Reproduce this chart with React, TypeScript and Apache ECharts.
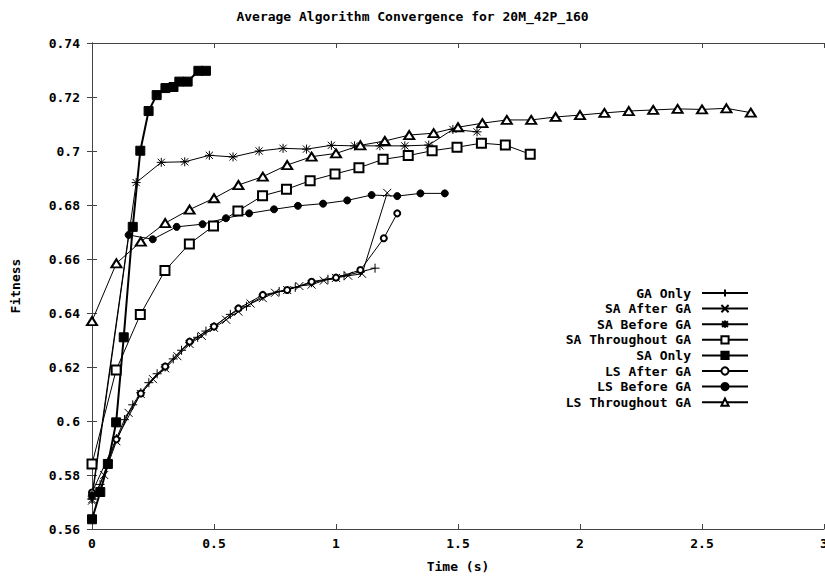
import React, { useEffect, useRef } from "react";
import * as echarts from "echarts";

const TITLE = "Average Algorithm Convergence for 20M_42P_160";
const X_NAME = "Time (s)";
const Y_NAME = "Fitness";

const gaOnly: number[][] = [
  [0, 0.5712], [0.033, 0.5765], [0.067, 0.585], [0.1, 0.5935], [0.133, 0.6005], [0.167, 0.606],
  [0.2, 0.6105], [0.233, 0.6142], [0.267, 0.6175], [0.3, 0.62], [0.333, 0.623], [0.367, 0.6262],
  [0.4, 0.629], [0.433, 0.631], [0.467, 0.6333], [0.5, 0.635], [0.567, 0.6395], [0.633, 0.6425],
  [0.7, 0.6462], [0.767, 0.648], [0.833, 0.6495], [0.9, 0.6512], [0.967, 0.6525], [1.033, 0.6538],
  [1.1, 0.6552], [1.16, 0.6566],
];
const saAfterGa: number[][] = [
  [0, 0.5705], [0.05, 0.58], [0.1, 0.5925], [0.15, 0.603], [0.2, 0.61], [0.25, 0.6155], [0.3, 0.6195],
  [0.35, 0.624], [0.4, 0.6285], [0.45, 0.6315], [0.5, 0.6345], [0.55, 0.6375], [0.6, 0.6405],
  [0.65, 0.6435], [0.7, 0.6455], [0.75, 0.6475], [0.8, 0.6485], [0.85, 0.65], [0.9, 0.6505],
  [0.95, 0.652], [1.0, 0.653], [1.05, 0.6538], [1.107, 0.6545], [1.21, 0.6845],
];
const saBeforeGa: number[][] = [
  [0, 0.571], [0.181, 0.6883], [0.284, 0.6958], [0.38, 0.696], [0.481, 0.6984], [0.578, 0.6978],
  [0.685, 0.7], [0.783, 0.701], [0.879, 0.7007], [0.981, 0.7021], [1.076, 0.7019], [1.18, 0.7019],
  [1.282, 0.7019], [1.38, 0.7022], [1.479, 0.708], [1.578, 0.7071],
];
const saThroughoutGa: number[][] = [
  [0, 0.5841], [0.099, 0.6189], [0.198, 0.6394], [0.299, 0.6557], [0.399, 0.6656], [0.498, 0.6722],
  [0.598, 0.6778], [0.699, 0.6834], [0.797, 0.6858], [0.894, 0.689], [0.996, 0.6915], [1.094, 0.6938],
  [1.193, 0.6969], [1.296, 0.6983], [1.394, 0.7001], [1.496, 0.7014], [1.596, 0.7029], [1.694, 0.7022],
  [1.796, 0.6988],
];
const saOnly: number[][] = [
  [0, 0.5636], [0.034, 0.5737], [0.065, 0.5841], [0.099, 0.5995], [0.13, 0.631], [0.167, 0.6719],
  [0.198, 0.7001], [0.232, 0.7148], [0.265, 0.7207], [0.301, 0.7233], [0.334, 0.7237], [0.358, 0.7257],
  [0.392, 0.7257], [0.436, 0.7297], [0.467, 0.7297],
];
const lsAfterGa: number[][] = [
  [0, 0.5735], [0.1, 0.5932], [0.2, 0.6102], [0.3, 0.6202], [0.4, 0.6294], [0.5, 0.635], [0.6, 0.6417],
  [0.7, 0.6467], [0.8, 0.6485], [0.9, 0.6516], [1.0, 0.6531], [1.1, 0.6559], [1.196, 0.6677],
  [1.251, 0.6769],
];
const lsBeforeGa: number[][] = [
  [0, 0.5725], [0.15, 0.6689], [0.249, 0.6673], [0.347, 0.6719], [0.453, 0.6729], [0.549, 0.6751],
  [0.644, 0.6769], [0.746, 0.6784], [0.844, 0.6797], [0.947, 0.6805], [1.046, 0.6817], [1.146, 0.6837],
  [1.251, 0.6833], [1.346, 0.6843], [1.446, 0.6843],
];
const lsThroughoutGa: number[][] = [
  [0, 0.637], [0.1, 0.6584], [0.2, 0.6664], [0.3, 0.6733], [0.4, 0.6783], [0.5, 0.6825], [0.6, 0.6874],
  [0.7, 0.6905], [0.8, 0.6948], [0.9, 0.6979], [1.0, 0.6991], [1.1, 0.7021], [1.2, 0.7037], [1.3, 0.7059],
  [1.4, 0.7066], [1.5, 0.7088], [1.6, 0.7103], [1.7, 0.7115], [1.8, 0.7115], [1.9, 0.7126], [2.0, 0.7133],
  [2.1, 0.7141], [2.2, 0.7148], [2.3, 0.7152], [2.4, 0.7156], [2.5, 0.7154], [2.6, 0.7158], [2.7, 0.7142],
];

const FONT = '"DejaVu Sans Mono", "Liberation Mono", monospace';

const PLUS = "path://M5,0L5,10M0,5L10,5";
const CROSS = "path://M0,0L10,10M10,0L0,10";
const STAR = "path://M5,0L5,10M0,5L10,5M1,1L9,9M9,1L1,9";

function mk(name: string, data: number[][], symbol: string, size: number | number[], lw = 1) {
  return {
    name,
    type: "line",
    data,
    symbol,
    symbolSize: size,
    showAllSymbol: true,
    lineStyle: { color: "#000", width: lw },
    itemStyle: { color: "#000", borderColor: "#000", borderWidth: 1 },
    emphasis: { disabled: true },
  };
}

export default function App() {
  const ref = useRef<HTMLDivElement>(null);
  useEffect(() => {
    if (!ref.current) return;
    const chart = echarts.init(ref.current, null, { renderer: "svg" });
    const labelStyle = { fontFamily: FONT, fontSize: 13, fontWeight: "bold", color: "#000" };
    const axisLine = { show: true, lineStyle: { color: "#444", width: 1 } };
    const tick = { show: true, inside: true, length: 5, lineStyle: { color: "#444" } };
    chart.setOption({
      animation: false,
      backgroundColor: "#fff",
      title: {
        text: TITLE,
        left: "center",
        top: 5,
        textStyle: { ...labelStyle },
      },
      grid: { left: 92, right: 1, top: 43, bottom: 48, containLabel: false, outerBoundsMode: "none" },
      legend: {
        orient: "vertical",
        align: "right",
        right: 71,
        top: 281,
        itemWidth: 46,
        itemHeight: 9,
        itemGap: 1.6,
        textStyle: { ...labelStyle, lineHeight: 14, padding: [0, 6, 0, 0] },
        data: [
          "GA Only", "SA After GA", "SA Before GA", "SA Throughout GA",
          "SA Only", "LS After GA", "LS Before GA", "LS Throughout GA",
        ],
      },
      xAxis: [
        {
          type: "value",
          min: 0,
          max: 3,
          interval: 0.5,
          name: X_NAME,
          nameLocation: "middle",
          nameGap: 31,
          nameTextStyle: { ...labelStyle },
          axisLine,
          axisTick: tick,
          axisLabel: { ...labelStyle, margin: 8 },
          splitLine: { show: false },
        },
        {
          type: "value",
          position: "top",
          min: 0,
          max: 3,
          interval: 0.5,
          axisLine,
          axisTick: tick,
          axisLabel: { show: false },
          splitLine: { show: false },
        },
      ],
      yAxis: [
        {
          type: "value",
          min: 0.56,
          max: 0.74,
          interval: 0.02,
          name: Y_NAME,
          nameLocation: "middle",
          nameRotate: 90,
          nameGap: 70,
          nameTextStyle: { ...labelStyle },
          axisLine,
          axisTick: tick,
          axisLabel: { ...labelStyle, margin: 12 },
          splitLine: { show: false },
        },
        {
          type: "value",
          position: "right",
          min: 0.56,
          max: 0.74,
          interval: 0.02,
          axisLine,
          axisTick: tick,
          axisLabel: { show: false },
          splitLine: { show: false },
        },
      ],
      series: [
        mk("GA Only", gaOnly, PLUS, 9),
        mk("SA After GA", saAfterGa, CROSS, 8),
        mk("SA Before GA", saBeforeGa, STAR, 9),
        mk("SA Throughout GA", saThroughoutGa, "emptyRect", 9),
        mk("SA Only", saOnly, "rect", 9, 2),
        mk("LS After GA", lsAfterGa, "emptyCircle", 6),
        mk("LS Before GA", lsBeforeGa, "circle", 7),
        mk("LS Throughout GA", lsThroughoutGa, "emptyTriangle", [10, 8]),
      ],
    });
    return () => chart.dispose();
  }, []);
  return (
    <div
      ref={ref}
      style={{ position: "fixed", left: 0, top: 0, width: 825, height: 577, background: "#fff" }}
    />
  );
}
